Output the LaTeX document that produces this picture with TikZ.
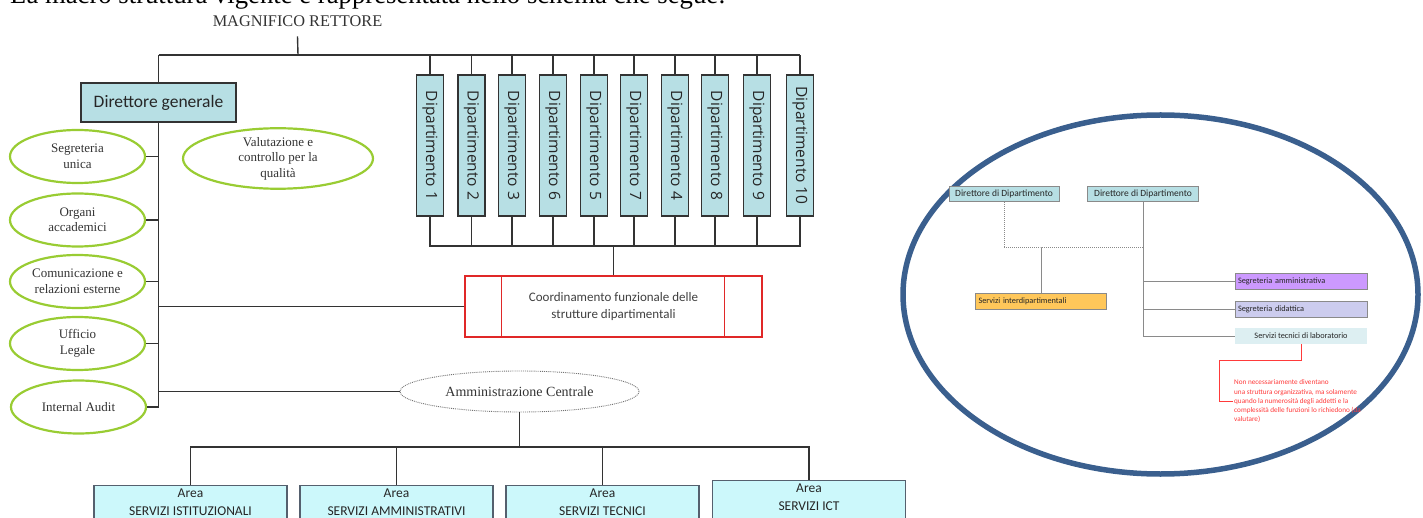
\documentclass[tikz,border=0pt]{standalone}
\usepackage{fontspec}
\usepackage{graphicx}
\setmainfont{Liberation Serif}
\newfontfamily\carl{Carlito}
\newfontfamily\opsans{Open Sans}
\usetikzlibrary{shapes.geometric}
\definecolor{cyanbox}{HTML}{B7DFE4}
\definecolor{areafill}{HTML}{CCF8FB}
\definecolor{areaedge}{HTML}{55606E}
\definecolor{greenedge}{HTML}{99CC33}
\definecolor{linegray}{HTML}{333333}
\definecolor{txtgray}{HTML}{333333}
\definecolor{coordred}{HTML}{E02828}
\definecolor{ellblue}{HTML}{3A5F8E}
\definecolor{orangebox}{HTML}{FFC75A}
\definecolor{purplebox}{HTML}{CC99FF}
\definecolor{lavbox}{HTML}{CCCCEE}
\definecolor{labbox}{HTML}{DDEFF2}
\definecolor{inlinegray}{HTML}{8A8A8A}
\definecolor{notered}{HTML}{FF3A3A}
\begin{document}
\begin{tikzpicture}[x=1pt,y=-1pt,
  conn/.style={draw=linegray,line width=1.4pt},
  cbox/.style={draw=linegray,fill=cyanbox,line width=1.3pt,inner sep=0pt},
  deptbox/.style={cbox,minimum width=27,minimum height=141,font=\opsans\fontsize{15.5}{17}\selectfont,text=black!85},
  greenell/.style={ellipse,draw=greenedge,line width=2.2pt,minimum width=135,minimum height=53,inner sep=0pt,align=center,font=\fontsize{13}{15.5}\selectfont,text=txtgray},
  areanode/.style={draw=areaedge,fill=areafill,line width=1.4pt,minimum width=193,anchor=north,align=center,inner xsep=2pt,inner ysep=3pt,font=\carl\fontsize{13.5}{18}\selectfont,text=black!85},
  inbox/.style={draw=inlinegray,line width=0.9pt,inner sep=0pt,minimum height=15.5,font=\carl\fontsize{8.3}{10}\selectfont,text=black!85},
  inline/.style={draw=inlinegray,line width=1pt},
  dotline/.style={draw=inlinegray,line width=1pt,densely dotted}
]
\useasboundingbox (0,0) rectangle (1423,518);

% intro text (cut at top)
\node[anchor=base west,inner sep=0pt,font=\fontsize{26.7}{29}\selectfont] (intro) at (10,4) {La macro struttura vigente è rappresentata nello schema che segue:};

% rector
\node[anchor=base,inner sep=2pt,font=\fontsize{16.3}{18}\selectfont,text=black!80] (rett) at (297.5,27) {MAGNIFICO RETTORE};
\coordinate (J0) at (298,55);

% direttore generale
\node[cbox,line width=1.5pt,minimum width=155,minimum height=39,font=\carl\fontsize{17.5}{20}\selectfont,text=black!85] (dg) at (158.5,102.5) {Direttore generale};

% departments
\foreach \i/\x/\lab in {1/430/1,2/471.5/2,3/512/3,4/553/6,5/594/5,6/634/7,7/675/4,8/715/8,9/757/9,10/800/10}{
  \node[deptbox] (d\i) at (\x,145.5) {\rotatebox{-90}{Dipartimento \lab}};
}

\draw[conn] ([yshift=-7pt]rett.south) -- (J0);
\draw[conn] (dg.north |- J0) -- (d10.north |- J0);
\draw[conn] (dg.north) -- (dg.north |- J0);
\foreach \i in {1,...,10}{\draw[conn] (d\i.north) -- (d\i.north |- J0);}

% coordinamento
\node[draw=coordred,line width=1.3pt,minimum width=297,minimum height=61,inner sep=0pt,align=center,font=\carl\fontsize{13}{17}\selectfont,text=black!75] (coord) at (613.5,306.5) {Coordinamento funzionale delle\\strutture dipartimentali};
\draw[draw=coordred,line width=1.3pt] ([xshift=37pt]coord.north west) -- ([xshift=37pt]coord.south west);
\draw[draw=coordred,line width=1.3pt] ([xshift=-38pt]coord.north east) -- ([xshift=-38pt]coord.south east);

\coordinate (J1) at (613.5,246);
\draw[conn] (d1.south) |- (J1) -| (d10.south);
\foreach \i in {2,...,9}{\draw[conn] (d\i.south) -- (d\i.south |- J1);}
\draw[conn] (J1) -- (coord.north);

% green ellipses
\node[greenell] (e1) at (77.5,156.5) {Segreteria\\unica};
\node[greenell] (e2) at (77.5,220) {Organi\\accademici};
\node[greenell] (e3) at (77.5,281.5) {Comunicazione e\\relazioni esterne};
\node[greenell] (e4) at (77.5,343.5) {Ufficio\\Legale};
\node[greenell] (e5) at (78.5,407) {Internal Audit};
\node[greenell,minimum width=190] (val) at (278,158.5) {Valutazione e\\controllo per la\\qualità};

\coordinate (T) at (158.5,407.5);
\draw[conn] (dg.south) -- (T);
\foreach \i in {1,...,5}{\draw[conn] (e\i.east) -- (e\i.east -| dg.south);}
\draw[conn] (coord.west) -- (coord.west -| dg.south);

% amministrazione centrale
\node[ellipse,draw=black!55,line width=0.9pt,densely dotted,minimum width=239,minimum height=41,inner sep=0pt,font=\fontsize{14}{16}\selectfont,text=txtgray] (amm) at (519.5,391.5) {Amministrazione Centrale};
\draw[conn] (amm.west) -- (amm.west -| dg.south);

% areas
\node[areanode] (a1) at (190.5,485) {Area\\SERVIZI ISTITUZIONALI\rule[-12pt]{0pt}{12pt}};
\node[areanode] (a2) at (396.5,485) {Area\\SERVIZI AMMINISTRATIVI\rule[-12pt]{0pt}{12pt}};
\node[areanode] (a3) at (602.5,485) {Area\\SERVIZI TECNICI\rule[-12pt]{0pt}{12pt}};
\node[areanode] (a4) at (809,480) {Area\\SERVIZI ICT\rule[-12pt]{0pt}{12pt}};
\coordinate (J2) at (519.5,447);
\draw[conn] (amm.south) -- (J2);
\draw[conn] (a1.north) |- (J2) -| (a4.north);
\draw[conn] (a2.north) -- (a2.north |- J2);
\draw[conn] (a3.north) -- (a3.north |- J2);

% right inset
\draw[ellblue,line width=5.5pt] (1160.5,294.5) ellipse [x radius=257.5, y radius=179.5];

\node[inbox,fill=cyanbox,minimum width=110,font=\carl\fontsize{9.5}{11}\selectfont] (dd1) at (1004,194) {Direttore di Dipartimento};
\node[inbox,fill=cyanbox,minimum width=111,font=\carl\fontsize{9.5}{11}\selectfont] (dd2) at (1143,194) {Direttore di Dipartimento};
\node[inbox,fill=orangebox,minimum width=131,text width=125,align=left,inner xsep=3pt] (si) at (1041,301.5) {Servizi interdipartimentali};
\node[inbox,fill=purplebox,minimum width=132,text width=126,align=left,inner xsep=3pt] (sa) at (1301,281.5) {Segreteria amministrativa};
\node[inbox,fill=lavbox,minimum width=132,text width=126,align=left,inner xsep=3pt] (sd) at (1301,309.3) {Segreteria didattica};
\node[inbox,draw=none,fill=labbox,minimum width=132] (st) at (1301,336) {Servizi tecnici di laboratorio};

\coordinate (Jd) at (1041,248);
\draw[dotline] (dd1.south) |- (Jd) -- (Jd -| dd2.south);
\draw[inline] (Jd) -- (si.north);
\draw[inline] (dd2.south) -- (dd2.south |- st.west);
\foreach \n in {sa,sd,st}{\draw[inline] (\n.west) -- (\n.west -| dd2.south);}

\coordinate (rk) at (1219,360);
\coordinate (rc) at (1233,401);
\draw[notered,line width=0.8pt] (st.south) |- (rk) |- (rc);
\node[anchor=north west,inner sep=0pt,align=left,font=\carl\fontsize{7.2}{9.3}\selectfont,text=notered] (note) at (1234,379.5) {Non necessariamente diventano\\una struttura organizzativa, ma solamente\\quando la numerosità degli addetti e la\\complessità delle funzioni lo richiedono (da\\valutare)};
\end{tikzpicture}
\end{document}
